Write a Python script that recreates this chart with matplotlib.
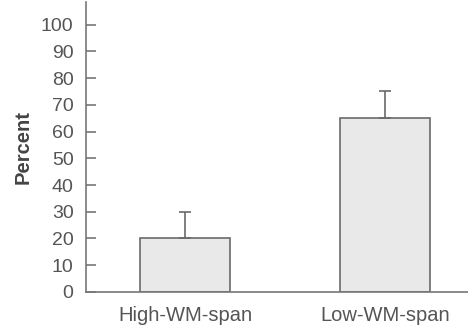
import matplotlib.pyplot as plt
import numpy as np

# datos
grupos = ["High-WM-span", "Low-WM-span"]
porcentajes = [20, 65]
errores = [10, 10]
marcas_y = list(range(0, 101, 10))

plt.rcParams["font.family"] = ["Liberation Sans", "DejaVu Sans"]

fig = plt.figure(figsize=(4.68, 3.28), dpi=100)
ax = fig.add_axes([0.184, 0.11, 0.816, 0.884])

pos = np.arange(len(grupos))
ax.bar(pos, porcentajes, width=0.45, color="#e9e9e9", edgecolor="#6a6a6a", linewidth=1.2,
       yerr=[[0] * len(errores), errores], capsize=4,
       error_kw={"ecolor": "#6a6a6a", "elinewidth": 1.2, "capthick": 1.2})

ax.set_xlim(-0.495, 1.415)
ax.set_ylim(0, 108.5)
ax.set_yticks(marcas_y)
ax.set_xticks(pos)
ax.set_xticklabels(grupos)

for s in ["top", "right"]:
    ax.spines[s].set_visible(False)
for s in ["left", "bottom"]:
    ax.spines[s].set_color("#777777")
    ax.spines[s].set_linewidth(1.2)

ax.tick_params(axis="y", direction="in", length=7, width=1.2, color="#777777",
               labelsize=14, labelcolor="#555555", pad=9)
ax.tick_params(axis="x", length=0, labelsize=14.5, labelcolor="#555555", pad=10)
ax.set_ylabel("Percent", fontsize=14.5, fontweight="semibold", color="#444444", labelpad=6)

fig.savefig("out.png", dpi=100)
